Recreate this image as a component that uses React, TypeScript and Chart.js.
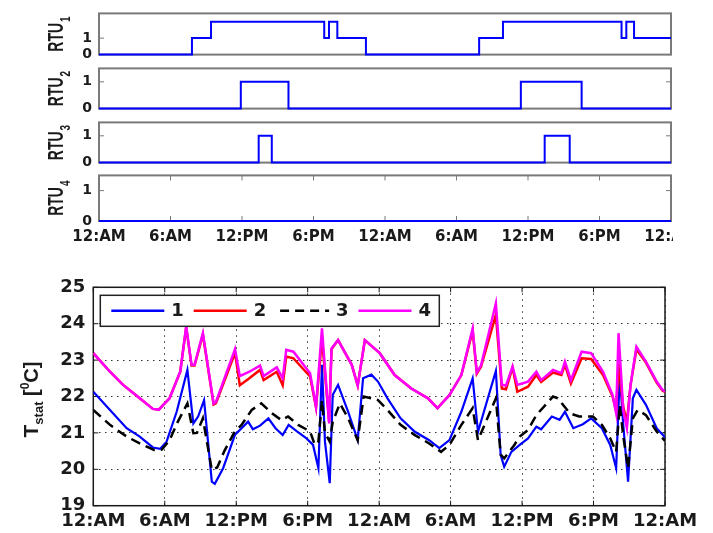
import React, { useEffect, useRef } from "react";
import { Chart, registerables } from "chart.js";
Chart.register(...registerables);

// ---------------- data ----------------
const xTickLabels = ["12:AM", "6:AM", "12:PM", "6:PM", "12:AM", "6:AM", "12:PM", "6:PM", "12:AM"];
const hourMin = 0;
const hourMax = 48;
const hourStep = 6;

const rtuLabel = "RTU";
const rtuIndexLabels = ["1", "2", "3", "4"];
const rtuYTicks = [0, 1];
const rtuYMax = [2.5, 1.5, 1.5, 1.5];

const rtu1Hours = [0, 7.8, 9.4, 18.9, 19.3, 20.0, 22.4, 31.9, 33.9, 43.85, 44.25, 44.9, 48];
const rtu1State = [0, 1, 2, 1, 2, 1, 0, 1, 2, 1, 2, 1, 1];
const rtu2Hours = [0, 11.9, 15.9, 35.4, 40.5, 48];
const rtu2State = [0, 1, 0, 1, 0, 0];
const rtu3Hours = [0, 13.4, 14.5, 37.4, 39.5, 48];
const rtu3State = [0, 1, 0, 1, 0, 0];
const rtu4Hours = [0, 48];
const rtu4State = [0, 0];

const tempMin = 19;
const tempMax = 25;
const seriesNames = ["1", "2", "3", "4"];

const hours1 = [0, 1.4, 2.8, 3.9, 5.0, 5.6, 6.15, 7.0, 7.9, 8.4, 8.8, 9.3, 9.95, 10.2, 10.9, 11.9, 12.45, 13.0, 13.4, 14.0, 14.7, 15.3, 15.9, 16.4, 17.1, 17.9, 18.45, 18.9, 19.2, 19.45, 19.85, 20.1, 20.55, 21.4, 22.2, 22.65, 23.35, 23.9, 24.7, 25.8, 27.0, 28.2, 29.05, 29.9, 30.9, 31.85, 32.3, 33.8, 34.2, 34.5, 35.1, 35.8, 36.5, 37.2, 37.6, 38.5, 39.15, 39.6, 40.3, 41.1, 41.8, 42.7, 43.4, 43.9, 44.2, 44.5, 44.9, 45.3, 45.6, 46.4, 47.3, 48];
const temp1 = [22.13, 21.63, 21.13, 20.9, 20.6, 20.56, 20.76, 21.58, 22.73, 21.26, 21.45, 21.9, 19.66, 19.6, 20.03, 20.95, 21.13, 21.31, 21.1, 21.2, 21.4, 21.13, 20.94, 21.22, 21.04, 20.85, 20.67, 20.03, 22.87, 20.76, 19.62, 22.04, 22.32, 21.58, 20.8, 22.5, 22.6, 22.41, 21.95, 21.4, 21.03, 20.8, 20.58, 20.8, 21.58, 22.5, 21.03, 22.7, 20.4, 20.07, 20.48, 20.67, 20.85, 21.17, 21.1, 21.45, 21.36, 21.58, 21.13, 21.24, 21.4, 21.13, 20.67, 20.03, 22.59, 21.2, 19.66, 21.95, 22.18, 21.77, 21.13, 20.88];

const hours3 = [0, 1.4, 2.8, 3.9, 5.1, 5.75, 6.4, 7.1, 7.9, 8.4, 8.7, 9.2, 9.95, 10.4, 11.0, 11.9, 12.45, 13.3, 14.1, 15.0, 15.8, 16.35, 17.2, 18.2, 18.6, 18.9, 19.2, 19.45, 19.85, 20.1, 20.7, 21.4, 22.2, 22.7, 23.35, 23.9, 24.7, 25.8, 27.0, 28.2, 29.2, 29.9, 30.9, 31.85, 32.3, 33.8, 34.2, 34.5, 35.35, 35.8, 36.5, 37.2, 38.6, 39.0, 40.0, 40.8, 41.95, 42.7, 43.4, 43.9, 44.2, 44.5, 44.9, 45.3, 45.7, 46.4, 47.3, 48];
const temp3 = [21.63, 21.22, 20.9, 20.71, 20.53, 20.54, 20.8, 21.31, 21.81, 20.99, 21.0, 21.4, 19.98, 20.05, 20.5, 21.05, 21.22, 21.63, 21.81, 21.54, 21.35, 21.45, 21.22, 21.04, 20.67, 20.76, 21.9, 21.0, 20.76, 21.3, 21.81, 21.4, 20.8, 22.0, 21.95, 21.9, 21.63, 21.22, 20.94, 20.71, 20.48, 20.67, 21.22, 21.68, 20.8, 21.95, 20.4, 20.3, 20.67, 20.9, 21.08, 21.49, 22.0, 21.95, 21.54, 21.45, 21.45, 21.22, 20.85, 20.48, 21.77, 20.9, 20.03, 21.4, 21.63, 21.49, 21.04, 20.78];

const hours24 = [0, 1.4, 2.5, 3.9, 5.0, 5.5, 6.4, 7.3, 7.8, 8.25, 8.5, 9.2, 10.1, 10.3, 11.9, 12.3, 13.1, 14.0, 14.3, 15.4, 15.9, 16.2, 16.8, 18.2, 18.7, 19.2, 19.8, 20.0, 20.55, 21.7, 22.2, 22.8, 24.05, 25.3, 26.7, 28.1, 28.9, 29.9, 30.9, 31.85, 32.2, 32.55, 33.8, 34.3, 34.65, 35.2, 35.6, 36.5, 37.2, 37.6, 38.6, 39.3, 39.6, 40.1, 41.0, 41.8, 42.8, 43.6, 43.9, 44.1, 44.5, 44.8, 45.1, 45.6, 46.4, 47.3, 47.8, 48];
const temp2 = [23.19, 22.68, 22.32, 21.95, 21.66, 21.64, 21.95, 22.68, 23.9, 22.85, 22.85, 23.7, 21.78, 21.82, 23.2, 22.31, 22.5, 22.73, 22.45, 22.68, 22.31, 23.1, 23.05, 22.55, 21.7, 23.6, 21.3, 23.3, 23.55, 22.87, 22.3, 23.55, 23.19, 22.59, 22.22, 21.95, 21.68, 22.04, 22.59, 23.8, 22.63, 22.82, 24.24, 22.22, 22.2, 22.8, 22.13, 22.27, 22.59, 22.4, 22.66, 22.59, 22.87, 22.36, 23.05, 23.03, 22.59, 22.0, 21.6, 22.9, 21.7, 21.3, 22.3, 23.3, 22.93, 22.38, 22.16, 22.13];
const temp4 = [23.19, 22.68, 22.32, 21.95, 21.66, 21.64, 21.95, 22.68, 23.92, 22.87, 22.87, 23.74, 21.81, 21.85, 23.3, 22.56, 22.68, 22.85, 22.56, 22.8, 22.5, 23.28, 23.23, 22.64, 21.72, 23.87, 21.26, 23.32, 23.55, 22.87, 22.3, 23.55, 23.19, 22.59, 22.22, 21.95, 21.68, 22.04, 22.59, 23.87, 22.66, 22.85, 24.56, 22.32, 22.3, 22.82, 22.32, 22.41, 22.68, 22.45, 22.73, 22.64, 22.96, 22.45, 23.23, 23.19, 22.68, 22.04, 21.54, 23.74, 21.6, 21.13, 22.3, 23.37, 22.96, 22.41, 22.18, 22.15];

// ---------------- helpers ----------------
const pts = (xs: number[], ys: number[]) => xs.map((x, i) => ({ x, y: ys[i] }));
const TEXT = "#1a1a1a";
const TICK_FONT = '"DejaVu Sans"';
const LBL_FONT = '"Liberation Sans"';

const rtuSeries = [
  pts(rtu1Hours, rtu1State),
  pts(rtu2Hours, rtu2State),
  pts(rtu3Hours, rtu3State),
  pts(rtu4Hours, rtu4State),
];

const panels = [
  { top: 8, bottom: 60 },
  { top: 63, bottom: 114 },
  { top: 116.5, bottom: 167.5 },
  { top: 170, bottom: 221 },
];
const PAD = 10;
const XAXIS_H = 30;

function frameAndTicks(color: string, lw: number, tickLen: number, xTicks: boolean) {
  return {
    id: "frame",
    beforeDatasetsDraw(chart: any) {
      const { ctx, chartArea: a, scales } = chart;
      ctx.save();
      ctx.strokeStyle = color;
      ctx.lineWidth = lw;
      ctx.strokeRect(a.left, a.top, a.right - a.left, a.bottom - a.top);
      ctx.lineWidth = 1;
      ctx.beginPath();
      const ys = scales.y.ticks.map((t: any) => scales.y.getPixelForValue(t.value));
      ys.forEach((py: number) => {
        ctx.moveTo(a.left, py); ctx.lineTo(a.left + tickLen, py);
        ctx.moveTo(a.right, py); ctx.lineTo(a.right - tickLen, py);
      });
      if (xTicks) {
        for (let v = hourMin; v <= hourMax; v += hourStep) {
          const px = scales.x.getPixelForValue(v);
          ctx.moveTo(px, a.bottom); ctx.lineTo(px, a.bottom - tickLen);
          ctx.moveTo(px, a.top); ctx.lineTo(px, a.top + tickLen);
        }
      }
      ctx.stroke();
      ctx.restore();
    },
  };
}

function rtuTitle(idx: number) {
  return {
    id: "rtuTitle",
    afterDraw(chart: any) {
      const { ctx, chartArea: a } = chart;
      const cy = (a.top + a.bottom) / 2;
      ctx.save();
      ctx.translate(63, cy);
      ctx.scale(1.55, 1);
      ctx.rotate(-Math.PI / 2);
      ctx.fillStyle = TEXT;
      ctx.textBaseline = "alphabetic";
      ctx.textAlign = "left";
      ctx.font = `bold 14px ${LBL_FONT}`;
      const wm = ctx.measureText(rtuLabel).width;
      ctx.font = `bold 10px ${LBL_FONT}`;
      const ws = ctx.measureText(rtuIndexLabels[idx]).width;
      const x0 = -(wm + ws + 1) / 2;
      ctx.font = `bold 14px ${LBL_FONT}`;
      ctx.fillText(rtuLabel, x0, 0);
      ctx.font = `bold 10px ${LBL_FONT}`;
      ctx.fillText(rtuIndexLabels[idx], x0 + wm + 1, 4.5);
      ctx.restore();
    },
  };
}

const tempTitle = {
  id: "tempTitle",
  afterDraw(chart: any) {
    const { ctx, chartArea: a } = chart;
    const cy = (a.top + a.bottom) / 2 + 3;
    const parts = [
      { t: "T", size: 21, dy: 0 },
      { t: "stat", size: 13, dy: 5 },
      { t: " [", size: 20, dy: 0 },
      { t: "0", size: 12, dy: -9 },
      { t: "C]", size: 20, dy: 0 },
    ];
    ctx.save();
    ctx.translate(38, cy);
    ctx.rotate(-Math.PI / 2);
    ctx.fillStyle = TEXT;
    ctx.textBaseline = "alphabetic";
    ctx.textAlign = "left";
    let total = 0;
    const widths = parts.map((p) => {
      ctx.font = `bold ${p.size}px ${LBL_FONT}`;
      const w = ctx.measureText(p.t).width;
      total += w;
      return w;
    });
    let x = -total / 2;
    parts.forEach((p, i) => {
      ctx.font = `bold ${p.size}px ${LBL_FONT}`;
      ctx.fillText(p.t, x, p.dy);
      x += widths[i];
    });
    ctx.restore();
  },
};

const legendColors = ["#0000ff", "#ff0000", "#000000", "#ff00ff"];
const legendDash = [[], [], [9, 6], []];

const tempLegend = {
  id: "tempLegend",
  afterDatasetsDraw(chart: any) {
    const { ctx, chartArea: a } = chart;
    const bx = a.left + 7;
    const by = a.top + 8;
    const bw = 339;
    const bh = 31;
    ctx.save();
    ctx.fillStyle = "#ffffff";
    ctx.fillRect(bx, by, bw, bh);
    ctx.strokeStyle = "#222";
    ctx.lineWidth = 1.5;
    ctx.strokeRect(bx, by, bw, bh);
    const cy = by + bh / 2;
    seriesNames.forEach((name, i) => {
      const lx = bx + 11 + 82.4 * i;
      ctx.beginPath();
      ctx.strokeStyle = legendColors[i];
      ctx.lineWidth = 2.5;
      ctx.setLineDash(legendDash[i]);
      ctx.moveTo(i === 2 ? lx + 4 : lx, cy);
      ctx.lineTo(lx + 53, cy);
      ctx.stroke();
      ctx.setLineDash([]);
      ctx.fillStyle = TEXT;
      ctx.font = `bold 18px ${TICK_FONT}`;
      ctx.textBaseline = "middle";
      ctx.textAlign = "left";
      ctx.fillText(name, lx + 60, cy + 1);
    });
    ctx.restore();
  },
};

function rtuConfig(idx: number): any {
  const isLast = idx === 3;
  return {
    type: "line",
    data: {
      datasets: [
        {
          data: rtuSeries[idx],
          borderColor: "#0000ff",
          borderWidth: 2,
          pointRadius: 0,
          stepped: true,
          clip: false,
        },
      ],
    },
    options: {
      animation: false,
      responsive: false,
      events: [],
      layout: { padding: { left: 0, right: 42, top: PAD, bottom: isLast ? 0 : PAD } },
      plugins: { legend: { display: false }, tooltip: { enabled: false } },
      scales: {
        x: {
          type: "linear",
          display: isLast,
          min: hourMin,
          max: hourMax,
          afterFit: (s: any) => { if (isLast) s.height = XAXIS_H; },
          ticks: {
            stepSize: hourStep,
            autoSkip: false,
            maxRotation: 0,
            padding: 7,
            color: TEXT,
            font: { family: TICK_FONT, size: 15, weight: "bold" },
            callback: (v: any) => xTickLabels[Math.round(v / hourStep)] ?? "",
          },
          grid: { display: false, drawTicks: false },
          border: { display: false },
        },
        y: {
          type: "linear",
          min: 0,
          max: rtuYMax[idx],
          afterBuildTicks: (s: any) => { s.ticks = rtuYTicks.map((v) => ({ value: v })); },
          afterFit: (s: any) => { s.width = 99; },
          ticks: {
            autoSkip: false,
            padding: 7,
            color: TEXT,
            font: { family: TICK_FONT, size: 14, weight: "bold" },
          },
          grid: { display: false, drawTicks: false },
          border: { display: false },
        },
      },
    },
    plugins: [frameAndTicks("#7a7a7a", 2, 5, isLast), rtuTitle(idx)],
  };
}

function tempConfig(): any {
  const mk = (label: string, xs: number[], ys: number[], color: string, width: number, order: number, dash: number[] = []) => ({
    label,
    data: pts(xs, ys),
    borderColor: color,
    borderWidth: width,
    borderDash: dash,
    pointRadius: 0,
    tension: 0,
    order,
  });
  const gridOpts = { color: "#333", lineWidth: 1, drawTicks: false };
  return {
    type: "line",
    data: {
      datasets: [
        mk(seriesNames[0], hours1, temp1, "#0000ff", 2.2, 4),
        mk(seriesNames[1], hours24, temp2, "#ff0000", 2.5, 3),
        mk(seriesNames[2], hours3, temp3, "#000000", 2.5, 2, [10, 6]),
        mk(seriesNames[3], hours24, temp4, "#ff00ff", 2.5, 1),
      ],
    },
    options: {
      animation: false,
      responsive: false,
      events: [],
      layout: { padding: { left: 0, right: 48, top: 37.3, bottom: 0 } },
      plugins: { legend: { display: false }, tooltip: { enabled: false } },
      scales: {
        x: {
          type: "linear",
          min: hourMin,
          max: hourMax,
          afterFit: (s: any) => { s.height = 27.3; },
          ticks: {
            stepSize: hourStep,
            autoSkip: false,
            maxRotation: 0,
            padding: 5,
            color: TEXT,
            font: { family: TICK_FONT, size: 18, weight: "bold" },
            callback: (v: any) => xTickLabels[Math.round(v / hourStep)] ?? "",
          },
          grid: gridOpts,
          border: { display: false, dash: [1.5, 4.5] },
        },
        y: {
          type: "linear",
          min: tempMin,
          max: tempMax,
          afterFit: (s: any) => { s.width = 93.3; },
          ticks: {
            stepSize: 1,
            padding: 8,
            color: TEXT,
            font: { family: TICK_FONT, size: 18, weight: "bold" },
          },
          grid: gridOpts,
          border: { display: false, dash: [1.5, 4.5] },
        },
      },
    },
    plugins: [frameAndTicks("#1a1a1a", 1.5, 5, true), tempTitle, tempLegend],
  };
}

function ChartCanvas({ make, top, width, height }: { make: () => any; top: number; width: number; height: number }) {
  const ref = useRef<HTMLCanvasElement>(null);
  useEffect(() => {
    const chart = new Chart(ref.current as HTMLCanvasElement, make());
    return () => chart.destroy();
  }, []);
  return (
    <canvas
      ref={ref}
      width={width}
      height={height}
      style={{ position: "absolute", left: 0, top, width, height, display: "block" }}
    />
  );
}

export default function App() {
  return (
    <div style={{ position: "absolute", left: 0, top: 0, width: 713, height: 533, background: "#fff", overflow: "hidden" }}>
      <div style={{ position: "absolute", left: 0, top: 0, width: 673, height: 250, overflow: "hidden" }}>
        {panels.map((p, i) => {
          const isLast = i === 3;
          const top = p.top - PAD;
          const h = p.bottom - p.top + PAD + (isLast ? XAXIS_H : PAD);
          return <ChartCanvas key={i} make={() => rtuConfig(i)} top={top} width={713} height={h} />;
        })}
      </div>
      <ChartCanvas make={tempConfig} top={250} width={713} height={283} />
    </div>
  );
}
